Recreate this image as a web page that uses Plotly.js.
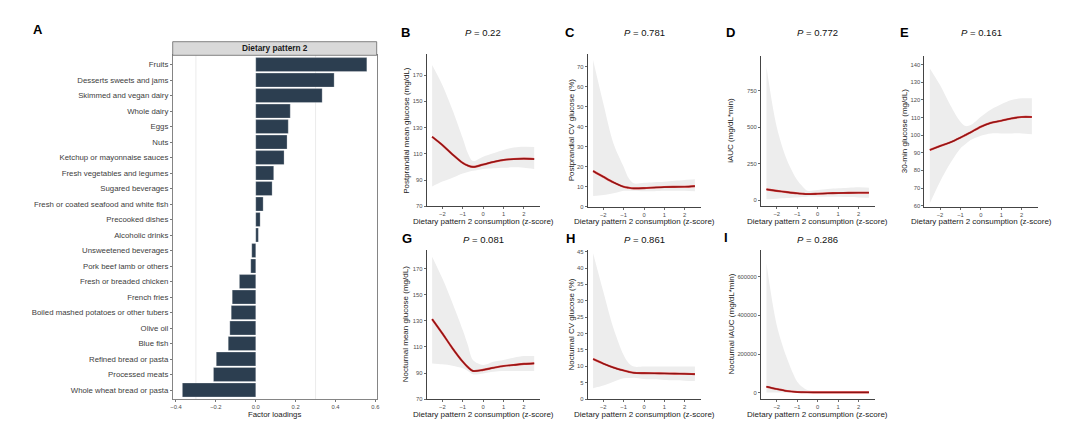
<!DOCTYPE html>
<html><head><meta charset="utf-8">
<script src="https://cdn.plot.ly/plotly-3.0.1.min.js"></script>
<style>html,body{margin:0;padding:0;background:#fff}#chart{width:1080px;height:428px}</style>
</head><body><div id="chart"></div>
<script>
// ---- Panel A data ----
const foods = ["Fruits","Desserts sweets and jams","Skimmed and vegan dairy","Whole dairy","Eggs","Nuts",
 "Ketchup or mayonnaise sauces","Fresh vegetables and legumes","Sugared beverages","Fresh or coated seafood and white fish",
 "Precooked dishes","Alcoholic drinks","Unsweetened beverages","Pork beef lamb or others","Fresh or breaded chicken",
 "French fries","Boiled mashed potatoes or other tubers","Olive oil","Blue fish","Refined bread or pasta",
 "Processed meats","Whole wheat bread or pasta"];
const loadings = [0.557,0.393,0.333,0.173,0.163,0.157,0.142,0.090,0.082,0.037,0.022,0.013,
 -0.020,-0.025,-0.082,-0.118,-0.123,-0.130,-0.138,-0.198,-0.212,-0.368];
const loadingTicks = [-0.4,-0.2,0.0,0.2,0.4,0.6];

// ---- Spline panels data (x = z-score) ----
const zScore = [-2.5,-2,-1.5,-1,-0.75,-0.5,0,0.5,1,1.5,2,2.5];
const zTicks = [-2,-1,0,1,2];

const ppMeanFit   = [123,116.7,109.5,103,101,100,101.8,103.8,105.3,106,106.3,106];
const ppMeanUpper = [177.6,162.4,143.4,121.8,110.4,104.5,107.8,110.4,112.9,114.7,115.4,115.2];
const ppMeanLower = [85,88.8,91.8,95,96.2,97,98.4,99,99.4,99.7,99.4,98.4];

const ppCVFit   = [17.9,15,12.2,10,9.5,9.2,9.3,9.6,9.85,9.95,10,10.3];
const ppCVUpper = [73.5,51.8,31.7,20,14.2,11.7,12,12.3,12.5,13,13.4,13.7];
const ppCVLower = [5.3,5.8,6.7,8,8,8,7.7,7.8,8,8,8,7.7];

const iaucFit   = [73,63,54,46,43,41,43,46,48,49,50,50];
const iaucUpper = [915,503,275,137,95,64,69,75,80,84,87,85];
const iaucLower = [5,9,14,18,20,23,23,23,23,20,18,16];

const g30Fit   = [91.6,93.8,95.9,98.6,100.1,101.6,104.8,107,108.2,109.5,110.3,110.3];
const g30Upper = [137.9,128.4,117.1,107.6,105.2,105.7,110.5,114.6,117.5,119.9,120.9,120.9];
const g30Lower = [61.3,73.6,84,92.5,95,97.2,99.7,101,101,101,101,100.5];

const noctMeanFit   = [131.5,120.5,109,98.7,94.5,91.6,92.4,94,95.4,96.2,97,97.4];
const noctMeanUpper = [179.5,162.8,143.6,123,111.5,100,96.2,98.7,100,101.8,103,103];
const noctMeanLower = [97.4,96.7,95.6,93.6,91.5,89,89.7,91,91.5,91.5,91.5,91.5];

const noctCVFit   = [12.2,10.8,9.6,8.7,8.3,8.0,7.9,7.85,7.8,7.75,7.7,7.6];
const noctCVUpper = [44.5,32.8,21.6,13.4,10.9,9.9,9.9,9.9,9.9,9.9,9.9,9.9];
const noctCVLower = [3.3,4.1,5.3,6.3,6.4,6.5,6.1,6.0,5.8,5.7,5.6,5.5];

const noctIaucFit   = [31000,19000,8600,3400,2500,2000,1700,1700,1700,1700,1700,1700];
const noctIaucUpper = [669000,350000,178000,57000,30000,14000,5000,5000,6000,7000,8000,8600];
const noctIaucLower = [800,500,300,200,200,200,200,200,200,200,200,200];

const pValues = {B:"0.22",C:"0.781",D:"0.772",E:"0.161",G:"0.081",H:"0.861",I:"0.286"};

// ---- helpers ----
const W=1080,H=428;
const px = x => x/W;
const py = y => 1 - y/H;
const FONT = "Liberation Sans, Arial, Helvetica, sans-serif";
const tickFont = {family:FONT,size:5.8,color:'#4d4d4d'};

const panels = [
 {letter:'B',n:2,fit:ppMeanFit,up:ppMeanUpper,lo:ppMeanLower,xd:[426.6,540.1],yd:[54,206.3],yr:[70,186],
  yt:[70,90,110,130,150,170],title:'Postprandial mean glucose (mg/dL)',ytx:405.7,lx:405,ly:32,pty:32.3,xty:221},
 {letter:'C',n:3,fit:ppCVFit,up:ppCVUpper,lo:ppCVLower,xd:[587.6,700.8],yd:[54,206.7],yr:[0,76.5],
  yt:[0,10,20,30,40,50,60,70],title:'Postprandial CV glucose (%)',ytx:571,lx:570,ly:32,pty:32.3,xty:221},
 {letter:'D',n:4,fit:iaucFit,up:iaucUpper,lo:iaucLower,xd:[760.9,874.9],yd:[55.7,206],yr:[-41,990],
  yt:[0,250,500,750],title:'iAUC (mg/dL*min)',ytx:731,lx:730,ly:32,pty:32.3,xty:221},
 {letter:'E',n:5,fit:g30Fit,up:g30Upper,lo:g30Lower,xd:[924.3,1037.8],yd:[55.7,206.7],yr:[59.4,145.1],
  yt:[60,70,80,90,100,110,120,130,140],title:'30-min glucose (mg/dL)',ytx:904,lx:904,ly:32,pty:32.3,xty:221},
 {letter:'G',n:6,fit:noctMeanFit,up:noctMeanUpper,lo:noctMeanLower,xd:[426.6,540.1],yd:[250,399],yr:[70,184.6],
  yt:[70,90,110,130,150,170],title:'Nocturnal mean glucose (mg/dL)',ytx:405.7,lx:406.7,ly:238,pty:240,xty:414.3},
 {letter:'H',n:7,fit:noctCVFit,up:noctCVUpper,lo:noctCVLower,xd:[587.6,700.8],yd:[250,399],yr:[0,45.5],
  yt:[0,5,10,15,20,25,30,35,40,45],title:'Nocturnal CV glucose (%)',ytx:571,lx:570,ly:238,pty:240,xty:414.3},
 {letter:'I',n:8,fit:noctIaucFit,up:noctIaucUpper,lo:noctIaucLower,xd:[760.9,874.9],yd:[250,399],yr:[-32600,738000],
  yt:[0,200000,400000,600000],title:'Nocturnal iAUC (mg/dL*min)',ytx:731,lx:726,ly:237,pty:240,xty:414.3}
];

const traces = [];
const layout = {
  width:W,height:H,margin:{l:0,r:0,t:0,b:0},paper_bgcolor:'#fff',plot_bgcolor:'#fff',
  showlegend:false,font:{family:FONT,color:'#333'},shapes:[],annotations:[]
};

// ---- Panel A ----
const aX=[172.7,376.7], aY=[55.3,399.3];
traces.push({type:'bar',orientation:'h',x:loadings,y:foods,xaxis:'x',yaxis:'y',width:0.9,
  marker:{color:'#2c3e50',line:{color:'rgba(255,255,255,0.5)',width:0.5}},hoverinfo:'skip'});
layout.xaxis = {domain:[px(aX[0]),px(aX[1])],anchor:'y',range:[-0.4165,0.6065],tickvals:loadingTicks,tickformat:'.1f',
  showgrid:false,zeroline:false,showline:true,mirror:true,linecolor:'#666',linewidth:0.8,
  ticks:'outside',ticklen:2,tickcolor:'#555',tickwidth:0.8,tickfont:tickFont};
layout.yaxis = {domain:[py(aY[1]),py(aY[0])],anchor:'x',type:'category',categoryorder:'array',categoryarray:foods,
  range:[21.6,-0.6],showgrid:false,zeroline:false,showline:true,mirror:true,linecolor:'#666',linewidth:0.8,
  ticks:'outside',ticklen:2,tickcolor:'#555',tickwidth:0.8,tickfont:{family:FONT,size:7.8,color:'#3d3d3d'}};
[-0.3,0.3].forEach(v=>layout.shapes.push({type:'line',xref:'x',yref:'paper',x0:v,x1:v,y0:py(aY[1]),y1:py(aY[0]),
  line:{color:'#ebebeb',width:1},layer:'below'}));
layout.shapes.push({type:'rect',xref:'paper',yref:'paper',x0:px(aX[0]),x1:px(aX[1]),y0:py(55.3),y1:py(41.7),
  fillcolor:'#d9d9d9',line:{color:'#666',width:0.8}});
layout.annotations.push({xref:'paper',yref:'paper',x:px((aX[0]+aX[1])/2),y:py(48.5),text:'<b>Dietary pattern 2</b>',
  showarrow:false,font:{family:FONT,size:8.3,color:'#1a1a1a'},xanchor:'center',yanchor:'middle'});
layout.annotations.push({xref:'paper',yref:'paper',x:px((aX[0]+aX[1])/2),y:py(414),text:'Factor loadings',
  showarrow:false,font:{family:FONT,size:7.8,color:'#222'},xanchor:'center',yanchor:'middle'});
layout.annotations.push({xref:'paper',yref:'paper',x:px(38),y:py(29),text:'<b>A</b>',
  showarrow:false,font:{family:FONT,size:13,color:'#000'},xanchor:'center',yanchor:'middle'});

// ---- Spline panels ----
panels.forEach(p=>{
  const xa='x'+p.n, ya='y'+p.n;
  traces.push({type:'scatter',mode:'lines',x:zScore,y:p.lo,xaxis:xa,yaxis:ya,line:{width:0,shape:'spline',smoothing:0.9},hoverinfo:'skip'});
  traces.push({type:'scatter',mode:'lines',x:zScore,y:p.up,xaxis:xa,yaxis:ya,fill:'tonexty',fillcolor:'#ededed',
    line:{width:0,shape:'spline',smoothing:0.9},hoverinfo:'skip'});
  traces.push({type:'scatter',mode:'lines',x:zScore,y:p.fit,xaxis:xa,yaxis:ya,line:{color:'#dc3a3a',width:2.1,shape:'spline',smoothing:0.9},hoverinfo:'skip'});
  traces.push({type:'scatter',mode:'lines',x:zScore,y:p.fit,xaxis:xa,yaxis:ya,line:{color:'#8b1515',width:1.2,shape:'spline',smoothing:0.9},hoverinfo:'skip'});
  layout['xaxis'+p.n] = {domain:[px(p.xd[0]),px(p.xd[1])],anchor:ya,range:[-2.77,2.79],tickvals:zTicks,
    showgrid:false,zeroline:false,showline:true,linecolor:'#444',linewidth:1,ticks:'outside',ticklen:2,
    tickcolor:'#444',tickwidth:0.8,tickfont:tickFont};
  layout['yaxis'+p.n] = {domain:[py(p.yd[1]),py(p.yd[0])],anchor:xa,range:p.yr,tickvals:p.yt,tickformat:'d',
    showgrid:false,zeroline:false,showline:true,linecolor:'#444',linewidth:1,ticks:'outside',ticklen:2,
    tickcolor:'#444',tickwidth:0.8,tickfont:tickFont};
  const cx = (p.xd[0]+p.xd[1])/2, cy=(p.yd[0]+p.yd[1])/2;
  layout.annotations.push({xref:'paper',yref:'paper',x:px(cx),y:py(p.pty),text:'<i>P</i> = '+pValues[p.letter],
    showarrow:false,font:{family:FONT,size:9.5,color:'#111'},xanchor:'center',yanchor:'middle'});
  layout.annotations.push({xref:'paper',yref:'paper',x:px(p.lx),y:py(p.ly),text:'<b>'+p.letter+'</b>',
    showarrow:false,font:{family:FONT,size:13,color:'#000'},xanchor:'center',yanchor:'middle'});
  layout.annotations.push({xref:'paper',yref:'paper',x:px(cx),y:py(p.xty),text:'Dietary pattern 2 consumption (z-score)',
    showarrow:false,font:{family:FONT,size:8,color:'#222'},xanchor:'center',yanchor:'middle'});
  layout.annotations.push({xref:'paper',yref:'paper',x:px(p.ytx),y:py(cy),text:p.title,textangle:-90,
    showarrow:false,font:{family:FONT,size:8,color:'#222'},xanchor:'center',yanchor:'middle'});
});

Plotly.newPlot('chart',traces,layout,{staticPlot:true,displayModeBar:false});
</script></body></html>
